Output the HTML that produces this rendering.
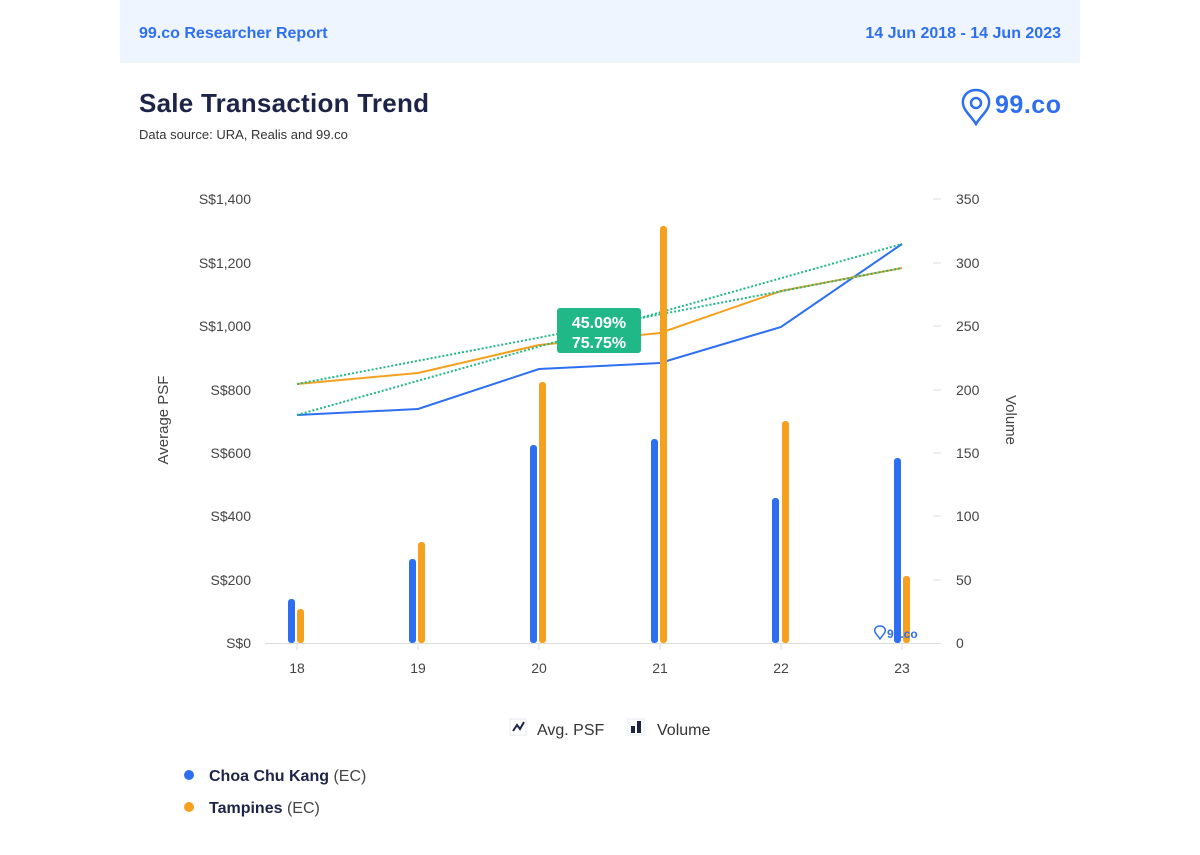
<!DOCTYPE html>
<html><head><style>
body{margin:0;background:#fff;font-family:"Liberation Sans",sans-serif;}
</style></head><body>
<svg width="1200" height="850" xmlns="http://www.w3.org/2000/svg" font-family="Liberation Sans, sans-serif">
<rect x="120" y="0" width="960" height="63" fill="#eef5fe"/>
<text x="139" y="38" font-size="16" font-weight="bold" fill="#2d6ff0">99.co Researcher Report</text>
<text x="1061" y="38" font-size="16" font-weight="bold" fill="#2d6ff0" text-anchor="end">14 Jun 2018 - 14 Jun 2023</text>
<text x="139" y="112" font-size="26" font-weight="bold" fill="#1e2448" textLength="290">Sale Transaction Trend</text>
<text x="139" y="139" font-size="13" fill="#333">Data source: URA, Realis and 99.co</text>
<g fill="none" stroke="#2d6ff0" stroke-width="2.5"><path d="M976 90c-9 0-14 7-13 14 1 7 9 13 13 20 4-7 12-13 13-20 1-7-4-14-13-14z"/><circle cx="976" cy="103" r="5"/></g>
<text x="995" y="113" font-size="25" font-weight="bold" fill="#2d6ff0" textLength="66">99.co</text>
<g font-size="14" fill="#444" text-anchor="end">
<text x="251" y="204">S$1,400</text><text x="251" y="268">S$1,200</text><text x="251" y="331">S$1,000</text><text x="251" y="395">S$800</text><text x="251" y="458">S$600</text><text x="251" y="521">S$400</text><text x="251" y="585">S$200</text><text x="251" y="648">S$0</text>
</g>
<g font-size="14" fill="#444">
<text x="956" y="204">350</text><text x="956" y="268">300</text><text x="956" y="331">250</text><text x="956" y="395">200</text><text x="956" y="458">150</text><text x="956" y="521">100</text><text x="956" y="585">50</text><text x="956" y="648">0</text>
</g>
<g stroke="#ddd" stroke-width="1">
<line x1="933" x2="941" y1="199" y2="199"/><line x1="933" x2="941" y1="263" y2="263"/><line x1="933" x2="941" y1="326" y2="326"/><line x1="933" x2="941" y1="390" y2="390"/><line x1="933" x2="941" y1="453" y2="453"/><line x1="933" x2="941" y1="516" y2="516"/><line x1="933" x2="941" y1="580" y2="580"/>
<line x1="265" x2="941" y1="643.5" y2="643.5"/>
<line x1="297" x2="297" y1="643" y2="650"/><line x1="418" x2="418" y1="643" y2="650"/><line x1="539" x2="539" y1="643" y2="650"/><line x1="660" x2="660" y1="643" y2="650"/><line x1="781" x2="781" y1="643" y2="650"/><line x1="902" x2="902" y1="643" y2="650"/>
</g>
<text transform="translate(168,420) rotate(-90)" font-size="15" fill="#444" text-anchor="middle">Average PSF</text>
<text transform="translate(1006,420) rotate(90)" font-size="15" fill="#444" text-anchor="middle">Volume</text>
<g font-size="14" fill="#444" text-anchor="middle">
<text x="297" y="673">18</text><text x="418" y="673">19</text><text x="539" y="673">20</text><text x="660" y="673">21</text><text x="781" y="673">22</text><text x="902" y="673">23</text>
</g>
<polyline points="297,415 418,409 539,369 660,363 781,327 902,244" fill="none" stroke="#2d6ff0" stroke-width="2"/>
<polyline points="297,384 418,373 539,345 660,333 781,291 902,268" fill="none" stroke="#f5a01f" stroke-width="2"/>
<line x1="297" y1="415" x2="902" y2="244" stroke="#1fb886" stroke-width="2" stroke-dasharray="2,2"/>
<line x1="297" y1="384" x2="902" y2="268" stroke="#1fb886" stroke-width="2" stroke-dasharray="2,2"/>
<g fill="#2d6ff0">
<rect x="288" y="599" width="7" height="44" rx="3"/><rect x="409" y="559" width="7" height="84" rx="3"/><rect x="530" y="445" width="7" height="198" rx="3"/><rect x="651" y="439" width="7" height="204" rx="3"/><rect x="772" y="498" width="7" height="145" rx="3"/><rect x="894" y="458" width="7" height="185" rx="3"/>
</g>
<g fill="#f5a01f">
<rect x="297" y="609" width="7" height="34" rx="3"/><rect x="418" y="542" width="7" height="101" rx="3"/><rect x="539" y="382" width="7" height="261" rx="3"/><rect x="660" y="226" width="7" height="417" rx="3"/><rect x="782" y="421" width="7" height="222" rx="3"/><rect x="903" y="576" width="7" height="67" rx="3"/>
</g>
<g fill="none" stroke="#2d6ff0" stroke-width="1.5"><path d="M880 626c-4 0-6 3-5 6 1 2 3 4 5 7 2-3 4-5 5-7 1-3-1-6-5-6z"/></g>
<text x="887" y="638" font-size="12" font-weight="bold" fill="#2d6ff0">99.co</text>
<rect x="557" y="308" width="84" height="45" rx="3" fill="#1fb886"/>
<text x="599" y="328" font-size="16" font-weight="bold" fill="#fff" text-anchor="middle">45.09%</text>
<text x="599" y="348" font-size="16" font-weight="bold" fill="#fff" text-anchor="middle">75.75%</text>
<rect x="510" y="719" width="16" height="16" fill="#fff" stroke="#e4e8ef"/>
<polyline points="513,731 517,725 520,729 524,722" fill="none" stroke="#1e2448" stroke-width="2"/>
<text x="537" y="735" font-size="16" fill="#333">Avg. PSF</text>
<rect x="628" y="719" width="16" height="16" fill="#fff" stroke="#e4e8ef"/>
<rect x="631" y="726" width="4" height="7" fill="#1e2448"/><rect x="637" y="721" width="4" height="12" fill="#1e2448"/>
<text x="657" y="735" font-size="16" fill="#333">Volume</text>
<circle cx="189" cy="775" r="5" fill="#2d6ff0"/>
<text x="209" y="781" font-size="16" fill="#1e2448"><tspan font-weight="bold">Choa Chu Kang</tspan><tspan fill="#444"> (EC)</tspan></text>
<circle cx="189" cy="807" r="5" fill="#f5a01f"/>
<text x="209" y="813" font-size="16" fill="#1e2448"><tspan font-weight="bold">Tampines</tspan><tspan fill="#444"> (EC)</tspan></text>
</svg>
</body></html>
